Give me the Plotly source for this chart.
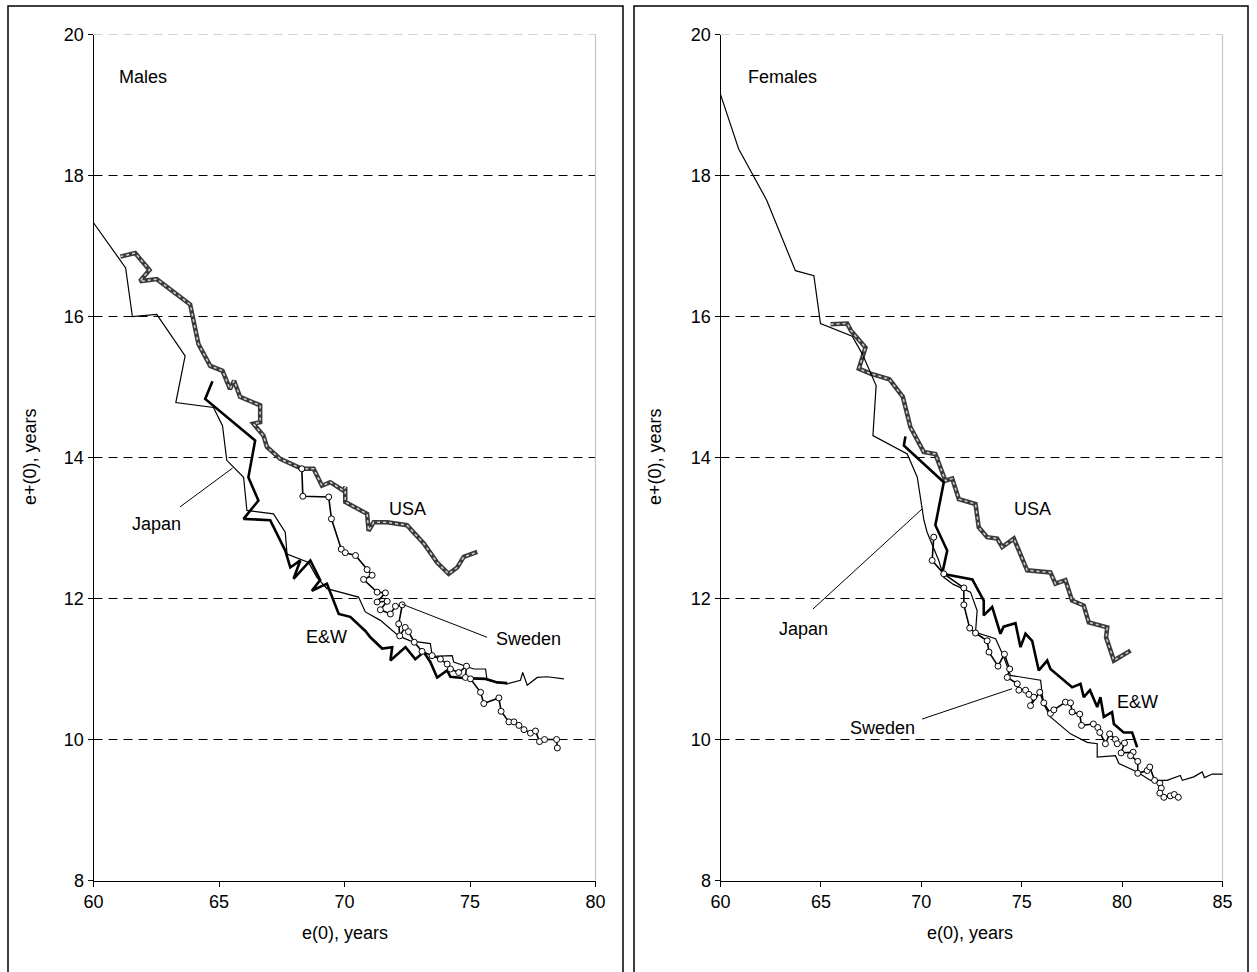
import plotly.graph_objects as go

# ---------------- Males ----------------
m_japan_x = [60.0, 61.28, 61.55, 62.52, 63.65, 63.28, 64.78, 65.14, 65.31, 65.98, 66.11, 67.17, 67.64, 67.71, 68.57, 68.9, 69.3, 70.56, 70.83, 71.43, 72.16, 72.62, 73.42, 73.5, 74.29, 74.35, 75.15, 75.62, 75.68, 76.48, 77.01, 77.1, 77.28, 77.68, 78.08, 78.74]
m_japan_y = [17.33, 16.69, 16.0, 16.03, 15.44, 14.78, 14.71, 14.45, 13.96, 13.72, 13.25, 13.2, 12.94, 12.63, 12.51, 12.3, 12.14, 12.02, 11.81, 11.69, 11.47, 11.4, 11.36, 11.18, 11.19, 11.1, 11.0, 11.0, 10.84, 10.79, 10.84, 10.95, 10.77, 10.88, 10.89, 10.86]

m_ew_x = [64.74, 64.45, 66.44, 66.17, 66.57, 65.98, 67.04, 67.57, 67.64, 67.84, 68.24, 67.97, 68.64, 69.03, 68.7, 69.3, 69.77, 70.23, 70.83, 71.03, 71.5, 71.9, 71.83, 72.43, 72.82, 73.16, 73.42, 73.69, 74.09, 74.22, 74.82, 75.62, 76.08, 76.48]
m_ew_y = [15.08, 14.83, 14.24, 13.72, 13.39, 13.13, 13.11, 12.73, 12.68, 12.44, 12.54, 12.28, 12.54, 12.26, 12.11, 12.21, 11.78, 11.74, 11.54, 11.45, 11.29, 11.31, 11.12, 11.31, 11.14, 11.24, 11.1, 10.88, 10.98, 10.89, 10.87, 10.86, 10.81, 10.8]

m_usa_x = [61.07, 61.66, 62.23, 61.85, 62.52, 62.92, 63.85, 64.18, 64.65, 65.14, 65.44, 65.6, 65.84, 66.64, 66.64, 66.37, 66.77, 66.91, 67.44, 68.3, 68.77, 69.1, 69.43, 69.96, 70.03, 70.03, 70.9, 70.96, 71.16, 71.7, 72.49, 73.16, 73.69, 74.15, 74.49, 74.75, 75.29]
m_usa_y = [16.85, 16.9, 16.66, 16.5, 16.53, 16.42, 16.17, 15.61, 15.3, 15.23, 14.97, 15.09, 14.86, 14.74, 14.5, 14.48, 14.31, 14.15, 13.98, 13.84, 13.84, 13.6, 13.65, 13.53, 13.58, 13.37, 13.2, 12.96, 13.08, 13.08, 13.04, 12.78, 12.51, 12.35, 12.44, 12.59, 12.66]

m_swe_x = [68.3, 68.34, 69.37, 69.48, 69.87, 70.03, 70.44, 70.9, 71.1, 70.76, 71.3, 71.63, 71.3, 71.7, 71.43, 71.83, 72.03, 72.3, 72.16, 72.2, 72.42, 72.55, 72.78, 73.09, 73.49, 73.82, 74.09, 74.22, 74.55, 74.86, 74.82, 75.02, 75.42, 75.55, 76.15, 76.24, 76.55, 76.75, 76.95, 77.15, 77.41, 77.61, 77.77, 77.97, 78.45, 78.48]
m_swe_y = [13.84, 13.45, 13.44, 13.13, 12.7, 12.65, 12.61, 12.41, 12.33, 12.27, 12.09, 12.08, 11.95, 11.96, 11.84, 11.78, 11.89, 11.91, 11.64, 11.47, 11.59, 11.53, 11.38, 11.25, 11.19, 11.14, 11.07, 11.0, 10.95, 11.04, 10.88, 10.86, 10.67, 10.51, 10.59, 10.4, 10.25, 10.25, 10.2, 10.14, 10.09, 10.12, 9.97, 10.0, 10.0, 9.88]

# ---------------- Females ----------------
f_japan_x = [60.0, 60.9, 62.3, 63.73, 64.65, 64.98, 66.56, 67.06, 67.75, 67.59, 69.3, 69.8, 70.13, 70.29, 70.87, 71.12, 71.6, 72.45, 72.78, 72.7, 73.7, 74.11, 74.44, 75.94, 76.02, 76.1, 76.43, 77.43, 78.26, 78.76, 78.76, 79.67, 79.84, 80.76, 81.41, 82.24, 82.9, 83.0, 83.57, 83.99, 84.1, 84.49, 85.2]
f_japan_y = [19.15, 18.38, 17.65, 16.65, 16.58, 15.9, 15.72, 15.47, 15.02, 14.31, 14.05, 13.72, 13.11, 12.94, 12.54, 12.3, 12.2, 12.09, 11.83, 11.52, 11.43, 11.17, 10.91, 10.84, 10.65, 10.5, 10.32, 10.08, 9.96, 9.94, 9.75, 9.77, 9.66, 9.54, 9.42, 9.42, 9.49, 9.42, 9.47, 9.54, 9.46, 9.51, 9.51]

f_usa_x = [65.48, 66.31, 66.5, 67.22, 66.89, 67.47, 68.41, 69.08, 69.46, 70.12, 70.7, 71.2, 71.54, 71.87, 72.7, 72.86, 73.28, 73.78, 74.03, 74.61, 75.27, 76.43, 76.68, 77.18, 77.51, 78.09, 78.34, 79.26, 79.2, 79.59, 80.42]
f_usa_y = [15.89, 15.9, 15.8, 15.56, 15.26, 15.19, 15.11, 14.86, 14.43, 14.08, 14.05, 13.67, 13.7, 13.41, 13.34, 13.01, 12.87, 12.85, 12.73, 12.85, 12.4, 12.37, 12.21, 12.26, 11.97, 11.9, 11.66, 11.59, 11.45, 11.12, 11.26]

f_swe_x = [70.62, 70.54, 71.12, 72.12, 72.12, 72.41, 72.7, 73.28, 73.37, 73.82, 74.14, 74.4, 74.28, 74.78, 74.86, 75.19, 75.36, 75.6, 75.44, 75.9, 76.1, 76.43, 76.6, 77.18, 77.43, 77.51, 77.89, 77.98, 78.57, 78.79, 78.89, 79.17, 79.38, 79.67, 79.76, 80.12, 79.95, 80.55, 80.42, 80.78, 80.78, 81.25, 81.38, 81.62, 81.88, 81.95, 81.88, 82.08, 82.4, 82.6, 82.8]
f_swe_y = [12.87, 12.54, 12.35, 12.15, 11.91, 11.58, 11.51, 11.4, 11.24, 11.04, 11.21, 11.0, 10.88, 10.79, 10.7, 10.7, 10.64, 10.6, 10.48, 10.67, 10.52, 10.37, 10.42, 10.53, 10.52, 10.39, 10.36, 10.2, 10.22, 10.17, 10.1, 9.94, 10.08, 10.0, 9.94, 9.95, 9.81, 9.82, 9.77, 9.69, 9.52, 9.56, 9.61, 9.42, 9.38, 9.31, 9.24, 9.18, 9.2, 9.22, 9.18]

f_ew_x = [69.21, 69.13, 71.12, 70.7, 71.29, 71.04, 72.54, 73.11, 73.11, 73.53, 73.94, 74.1, 74.69, 74.94, 75.19, 75.52, 75.85, 76.27, 76.43, 76.93, 77.26, 77.51, 77.93, 78.09, 78.4, 78.76, 78.92, 79.09, 79.5, 79.59, 80.08, 80.5, 80.75]
f_ew_y = [14.3, 14.17, 13.65, 13.04, 12.68, 12.35, 12.27, 11.97, 11.76, 11.88, 11.5, 11.6, 11.65, 11.31, 11.5, 11.4, 10.98, 11.12, 11.0, 10.88, 10.79, 10.74, 10.79, 10.6, 10.7, 10.46, 10.6, 10.32, 10.39, 10.22, 10.1, 10.1, 9.89]

# Axis settings
y_ticks = [8, 10, 12, 14, 16, 18, 20]
grid_vals = [10, 12, 14, 16, 18]
m_x_ticks = [60, 65, 70, 75, 80]
f_x_ticks = [60, 65, 70, 75, 80, 85]

FONT = "Liberation Sans, Arial, sans-serif"
FS = 18
W, H = 1257, 972

fig = go.Figure()


def add_series(x, y, xa, ya, kind):
    if kind == "usa":
        fig.add_trace(go.Scatter(x=x, y=y, xaxis=xa, yaxis=ya, mode="lines",
                                 line=dict(color="#3a3a3a", width=4.5), hoverinfo="skip"))
        fig.add_trace(go.Scatter(x=x, y=y, xaxis=xa, yaxis=ya, mode="lines",
                                 line=dict(color="#d0d0d0", width=1.5, dash="dot"), hoverinfo="skip"))
    elif kind == "japan":
        fig.add_trace(go.Scatter(x=x, y=y, xaxis=xa, yaxis=ya, mode="lines",
                                 line=dict(color="black", width=1.2), hoverinfo="skip"))
    elif kind == "ew":
        fig.add_trace(go.Scatter(x=x, y=y, xaxis=xa, yaxis=ya, mode="lines",
                                 line=dict(color="black", width=2.6), hoverinfo="skip"))
    elif kind == "swe":
        fig.add_trace(go.Scatter(x=x, y=y, xaxis=xa, yaxis=ya, mode="lines+markers",
                                 line=dict(color="black", width=1.6),
                                 marker=dict(symbol="circle", size=6, color="white",
                                             line=dict(color="black", width=1)),
                                 hoverinfo="skip"))


add_series(m_usa_x, m_usa_y, "x", "y", "usa")
add_series(m_japan_x, m_japan_y, "x", "y", "japan")
add_series(m_ew_x, m_ew_y, "x", "y", "ew")
add_series(m_swe_x, m_swe_y, "x", "y", "swe")

add_series(f_usa_x, f_usa_y, "x2", "y2", "usa")
add_series(f_japan_x, f_japan_y, "x2", "y2", "japan")
add_series(f_ew_x, f_ew_y, "x2", "y2", "ew")
add_series(f_swe_x, f_swe_y, "x2", "y2", "swe")

# domains (pixel -> paper)
ydom = [1 - 880.5 / H, 1 - 34.5 / H]
xdom1 = [93.5 / W, 595.5 / W]
xdom2 = [720.5 / W, 1222.5 / W]

axis_common = dict(showgrid=False, zeroline=False, showline=True, linecolor="black", linewidth=1,
                   ticks="outside", ticklen=5, tickcolor="black", tickwidth=1,
                   tickfont=dict(family=FONT, size=FS, color="black"), automargin=False, fixedrange=True)

fig.update_layout(
    width=W, height=H,
    margin=dict(l=0, r=0, t=0, b=0),
    paper_bgcolor="white", plot_bgcolor="white",
    showlegend=False,
    xaxis=dict(domain=xdom1, range=[60, 80], tickvals=m_x_ticks, anchor="y", **axis_common),
    yaxis=dict(domain=ydom, range=[8, 20], tickvals=y_ticks, anchor="x", **axis_common),
    xaxis2=dict(domain=xdom2, range=[60, 85], tickvals=f_x_ticks, anchor="y2", **axis_common),
    yaxis2=dict(domain=ydom, range=[8, 20], tickvals=y_ticks, anchor="x2", **axis_common),
)

shapes = []
for xr, yr in (("x", "y"), ("x2", "y2")):
    for g in grid_vals:
        shapes.append(dict(type="line", xref=xr + " domain", yref=yr, x0=0, x1=1, y0=g, y1=g,
                           line=dict(color="black", width=1, dash="9px,6px"), layer="below"))
    # top (grey) and right (grey) plot-area border
    shapes.append(dict(type="line", xref=xr + " domain", yref=yr, x0=0, x1=1, y0=20, y1=20,
                       line=dict(color="#a8a8a8", width=1, dash="9px,6px"), layer="below"))
    shapes.append(dict(type="line", xref=xr + " domain", yref=yr + " domain", x0=1, x1=1, y0=0, y1=1,
                       line=dict(color="#c4c4c4", width=1.2), layer="below"))

# outer panel boxes
shapes.append(dict(type="rect", xref="paper", yref="paper", x0=8 / W, x1=623 / W, y0=-0.05, y1=1 - 6 / H,
                   line=dict(color="black", width=1.5)))
shapes.append(dict(type="rect", xref="paper", yref="paper", x0=634 / W, x1=1248 / W, y0=-0.05, y1=1 - 6 / H,
                   line=dict(color="black", width=1.5)))

# annotation pointer lines
shapes.append(dict(type="line", xref="x", yref="y", x0=63.45, y0=13.3, x1=65.54, y1=13.85,
                   line=dict(color="black", width=1)))
shapes.append(dict(type="line", xref="x", yref="y", x0=72.29, y0=11.92, x1=75.68, y1=11.45,
                   line=dict(color="black", width=1)))
shapes.append(dict(type="line", xref="x2", yref="y2", x0=64.6, y0=11.85, x1=70.04, y1=13.27,
                   line=dict(color="black", width=1)))
shapes.append(dict(type="line", xref="x2", yref="y2", x0=70.04, y0=10.29, x1=74.52, y1=10.72,
                   line=dict(color="black", width=1)))
fig.update_layout(shapes=shapes)

tf = dict(family=FONT, size=FS, color="black")
C = dict(showarrow=False, xanchor="center", yanchor="middle", font=tf)
ann = [
    dict(x=60.93, y=19.4, xref="x", yref="y", text="Males", showarrow=False, xanchor="left", yanchor="middle", font=tf),
    dict(x=61.25, y=19.4, xref="x2", yref="y2", text="Females", showarrow=False, xanchor="left", yanchor="middle", font=tf),
    dict(x=72.49, y=13.27, xref="x", yref="y", text="USA", **C),
    dict(x=62.5, y=13.05, xref="x", yref="y", text="Japan", **C),
    dict(x=69.3, y=11.45, xref="x", yref="y", text="E&amp;W", **C),
    dict(x=77.34, y=11.43, xref="x", yref="y", text="Sweden", **C),
    dict(x=75.52, y=13.27, xref="x2", yref="y2", text="USA", **C),
    dict(x=64.13, y=11.57, xref="x2", yref="y2", text="Japan", **C),
    dict(x=80.75, y=10.53, xref="x2", yref="y2", text="E&amp;W", **C),
    dict(x=68.07, y=10.17, xref="x2", yref="y2", text="Sweden", **C),
    # axis titles
    dict(x=345 / W, y=1 - 933 / H, xref="paper", yref="paper", text="e(0), years", **C),
    dict(x=970 / W, y=1 - 933 / H, xref="paper", yref="paper", text="e(0), years", **C),
    dict(x=30 / W, y=1 - 457 / H, xref="paper", yref="paper", text="e+(0), years", textangle=-90, **C),
    dict(x=655 / W, y=1 - 457 / H, xref="paper", yref="paper", text="e+(0), years", textangle=-90, **C),
]
fig.update_layout(annotations=ann)

fig.write_html("out.html", config={"displayModeBar": False, "staticPlot": True},
               post_script="document.body.style.margin='0px';")
